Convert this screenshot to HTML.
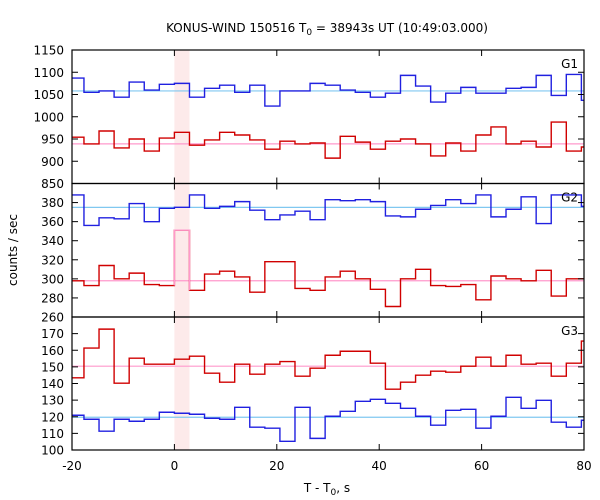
<!DOCTYPE html>
<html><head><meta charset="utf-8"><style>
body{margin:0;background:#fff}
svg{font-family:"DejaVu Sans","Liberation Sans",sans-serif;display:block}
</style></head><body>
<svg id="c" width="600" height="500" viewBox="0 0 600 500">
<text x="327" y="32" text-anchor="middle" font-size="12">KONUS-WIND 150516 T<tspan font-size="9" dy="3">0</tspan><tspan dy="-3"> = 38943s UT (10:49:03.000)</tspan></text>
<text x="17" y="250" text-anchor="middle" font-size="12" transform="rotate(-90 17 250)">counts / sec</text>
<text x="327" y="492" text-anchor="middle" font-size="12">T - T<tspan font-size="9" dy="3">0</tspan><tspan dy="-3">, s</tspan></text>
<g id="g"></g>
</svg>
<script>
const xTicks=[-20,0,20,40,60,80];
const binWidth=2.944;
const g1Blue=[1087,1055,1058,1044,1078,1060,1073,1075,1044,1064,1071,1055,1071,1024,1058,1058,1075,1071,1060,1055,1044,1053,1093,1069,1033,1053,1066,1053,1053,1064,1066,1093,1048,1095,1037];
const g1Red=[954,939,968,930,950,923,952,965,936,948,965,959,948,927,945,939,941,907,956,943,927,945,950,939,912,941,923,959,977,939,945,932,988,923,932];
const g2Blue=[388,356,364,363,379,360,374,375,388,374,376,381,372,362,367,371,362,383,382,383,381,366,365,373,377,383,379,388,365,373,386,358,388,388,376];
const g2Red=[298,293,314,300,306,294,293,351,288,305,308,302,286,318,318,290,288,302,308,300,289,271,300,310,293,292,294,278,303,300,298,309,282,300,300];
const g3Red=[143.4,161.3,172.7,140.2,155.2,151.6,151.6,154.6,156.4,146.2,140.8,151.6,145.6,151.6,153.2,144.4,149.2,157,159.4,159.4,152.2,136.6,140.8,145,147.4,146.8,150.4,155.8,150.4,157,151.6,152.2,144.4,152.2,165.5];
const g3Blue=[120.9,118.5,111.3,118.5,117.3,118.5,122.7,122.1,121.5,119.1,118.5,125.7,113.7,113.1,105.2,125.7,107,120.3,123.3,129.3,130.5,128.1,125.1,120.3,114.9,123.9,124.5,113.1,120.3,131.7,125.1,129.9,116.7,113.7,117.9];
const g1Ticks=[1150,1100,1050,1000,950,900,850];
const g2Ticks=[380,360,340,320,300,280,260];
const g3Ticks=[170,160,150,140,130,120,110,100];
const means={g1:[1058,939],g2:[375,298],g3:[150.4,119.7]};
const NS="http://www.w3.org/2000/svg";
const G=document.getElementById('g');
const X0=72,X1=584;
const xs=t=>X0+(t+20)/100*(X1-X0);
function mk(tag,attrs){const e=document.createElementNS(NS,tag);for(const k in attrs)e.setAttribute(k,attrs[k]);G.appendChild(e);return e;}
const edges=[-20];for(let k=-6;k<=27;k++)edges.push(k*binWidth);edges.push(80);
const panels=[
 {id:'g1',top:50,bot:183.5,min:850,max:1150,ticks:g1Ticks,series:[[g1Blue,'#2020e0'],[g1Red,'#d00000']],label:'G1',mc:['#80c8f0','#ff99cc']},
 {id:'g2',top:183.5,bot:317,min:260,max:400,ticks:g2Ticks,series:[[g2Blue,'#2020e0'],[g2Red,'#d00000']],label:'G2',mc:['#80c8f0','#ff99cc']},
 {id:'g3',top:317,bot:450,min:100,max:180,ticks:g3Ticks,series:[[g3Red,'#d00000'],[g3Blue,'#2020e0']],label:'G3',mc:['#ff99cc','#80c8f0']}
];
const band=mk('rect',{x:xs(0),y:50,width:xs(binWidth)-xs(0),height:400,fill:'#fdeaea'});


panels.forEach(p=>{
 const ys=v=>p.bot-(v-p.min)/(p.max-p.min)*(p.bot-p.top);
 p.series.forEach((s,i)=>{
  const m=means[p.id][i];
  const l=mk('line',{x1:X0,x2:X1,y1:ys(m),y2:ys(m),stroke:p.mc[i],'stroke-width':1.2});
  
  
 });
 p.series.forEach((s,i)=>{
  const vals=s[0];let d='';
  vals.forEach((v,j)=>{d+=(j?'L':'M')+xs(edges[j])+','+ys(v)+'L'+xs(edges[j+1])+','+ys(v);});
  const path=mk('path',{d:d,fill:'none',stroke:s[1],'stroke-width':1.4});
  
  
  if(p.id==='g2'&&s[1]==='#d00000'){
   const j=7,v=vals[j];
   const hp=mk('path',{d:'M'+xs(edges[j])+','+ys(vals[j-1])+'L'+xs(edges[j])+','+ys(v)+'L'+xs(edges[j+1])+','+ys(v)+'L'+xs(edges[j+1])+','+ys(vals[j+1]),fill:'none',stroke:'#ff99cc','stroke-width':1.4});
   
   
  }
 });
 const fr=mk('rect',{x:X0,y:p.top,width:X1-X0,height:p.bot-p.top,fill:'none',stroke:'#000','stroke-width':1.2});
 
 
 p.ticks.forEach(t=>{
  const y=ys(t);
  mk('line',{x1:X0,x2:X0+6,y1:y,y2:y,stroke:'#000'});
  mk('line',{x1:X1-6,x2:X1,y1:y,y2:y,stroke:'#000'});
  const tx=mk('text',{x:64,y:y+4.5,'text-anchor':'end','font-size':12});
  tx.textContent=t;
  
  
 });
 xTicks.forEach(t=>{
  const x=xs(t);
  mk('line',{x1:x,x2:x,y1:p.top,y2:p.top+6,stroke:'#000'});
  mk('line',{x1:x,x2:x,y1:p.bot-6,y2:p.bot,stroke:'#000'});
 });
 const lb=mk('text',{x:578,y:p.top+18,'text-anchor':'end','font-size':12});
 lb.textContent=p.label;
 
 
});
xTicks.forEach(t=>{
 const tx=mk('text',{x:xs(t),y:470,'text-anchor':'middle','font-size':12});
 tx.textContent=t;
 
 
});
</script>
</body></html>
